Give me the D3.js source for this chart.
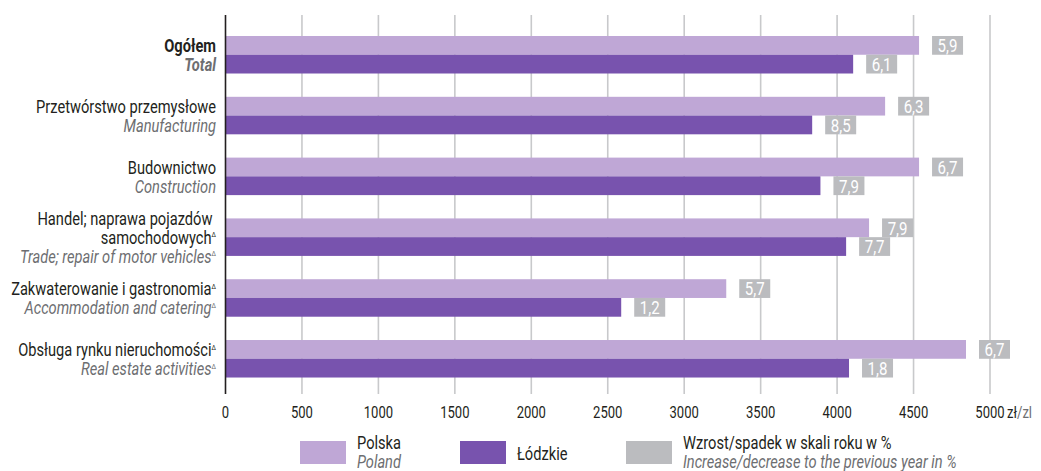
<!DOCTYPE html>
<html>
<head>
<meta charset="utf-8">
<script src="https://cdn.jsdelivr.net/npm/d3@7"></script>
<style>
  html, body { margin: 0; padding: 0; background: #fff; }
  svg { display: block; }
  text { font-family: Roboto, "Noto Sans", sans-serif; }
</style>
</head>
<body>
<svg id="chart" width="1041" height="471"></svg>
<script>
// ---- data ----
const categoriesPL = [
  ["Ogółem"],
  ["Przetwórstwo przemysłowe"],
  ["Budownictwo"],
  ["Handel; naprawa pojazdów\u00a0", "samochodowych"],
  ["Zakwaterowanie i gastronomia"],
  ["Obsługa rynku nieruchomości"]
];
const categoriesEN = ["Total", "Manufacturing", "Construction", "Trade; repair of motor vehicles", "Accommodation and catering", "Real estate activities"];
const marked = [false, false, false, true, true, true];
const polska = [4536, 4314, 4536, 4209, 3275, 4843];
const lodzkie = [4105, 3837, 3891, 4059, 2588, 4078];
const changePolska = [5.9, 6.3, 6.7, 7.9, 5.7, 6.7];
const changeLodzkie = [6.1, 8.5, 7.9, 7.7, 1.2, 1.8];
const xTicks = [0, 500, 1000, 1500, 2000, 2500, 3000, 3500, 4000, 4500, 5000];
const seriesNames = ["Polska", "Łódzkie"];
const seriesNamesEN = ["Poland", ""];
const legendChange = ["Wzrost/spadek w skali roku w %", "Increase/decrease to the previous year in %"];
const unitLabel = ["zł", "/zl"];

(function () {
// ---- styles ----
const colPL = "#bfa7d6";
const colLD = "#7853ae";
const colGray = "#bbbcbf";
const colText = "#231f20";
const colEN = "#6d6e71";
const colGrid = "#c8c9cb";
const fsLabel = 18.5, fsTick = 16.5, fsValue = 19;

const svg = d3.select("#chart");
const keys = categoriesEN.map((d, i) => i);

// condensed-font emulation: measure a reference string and derive a horizontal scale
const probe = svg.append("text").attr("font-size", fsLabel).text("Przetwórstwo przemysłowe");
const sx = 180 / probe.node().getComputedTextLength();
probe.remove();
const cond = sel => sel.each(function () {
  const t = d3.select(this);
  const x0 = +t.attr("x");
  t.attr("transform", `translate(${x0 * (1 - sx)},0) scale(${sx},1)`);
});

const x = d3.scaleLinear().domain([0, 5000]).range([225.5, 990]);
const y = d3.scaleBand().domain(keys).range([17.76, 395.76]).paddingInner(0.3832).paddingOuter(0.3);
const ys = d3.scaleBand().domain([0, 1]).range([0, y.bandwidth()]);

const yTop = 15, yBottom = 394;

// gridlines
svg.append("g").selectAll("line").data(xTicks.filter(d => d > 0)).join("line")
  .attr("x1", d => x(d)).attr("x2", d => x(d))
  .attr("y1", yTop).attr("y2", yBottom)
  .attr("stroke", colGrid).attr("stroke-width", 1.6);

// bars
const rows = keys.map(i => ({i, vals: [polska[i], lodzkie[i]], ch: [changePolska[i], changeLodzkie[i]]}));
const fmt = v => d3.format(".1f")(v).replace(".", ",");
const g = svg.append("g");
rows.forEach(r => {
  r.vals.forEach((v, s) => {
    const yy = y(r.i) + ys(s);
    g.append("rect")
      .attr("x", x(0)).attr("y", yy)
      .attr("width", x(v) - x(0)).attr("height", ys.bandwidth())
      .attr("fill", s === 0 ? colPL : colLD);
    g.append("rect")
      .attr("x", x(v) + 13).attr("y", yy)
      .attr("width", 31).attr("height", ys.bandwidth())
      .attr("fill", colGray);
    g.append("text")
      .attr("x", x(v) + 13 + 15.5).attr("y", yy + ys.bandwidth() / 2)
      .attr("dy", "0.36em")
      .attr("text-anchor", "middle")
      .attr("fill", "#fff")
      .attr("font-size", fsValue)
      .text(fmt(r.ch[s]))
      .call(cond);
  });
});

// y axis line
svg.append("line").attr("x1", x(0)).attr("x2", x(0)).attr("y1", yTop).attr("y2", yBottom)
  .attr("stroke", colText).attr("stroke-width", 1.6);

// x tick labels
svg.append("g").selectAll("text").data(xTicks).join("text")
  .attr("x", d => x(d)).attr("y", 412).attr("dy", "0.36em")
  .attr("text-anchor", "middle").attr("font-size", fsTick).attr("fill", colText)
  .text(d => d)
  .call(cond);
const unit = svg.append("text").attr("x", x(5000) + 17).attr("y", 412).attr("dy", "0.36em")
  .attr("font-size", fsTick).attr("fill", colText);
unit.append("tspan").text(unitLabel[0]);
unit.append("tspan").attr("fill", colEN).text(unitLabel[1]);
unit.call(cond);

// category labels
const labX = 216;
rows.forEach(r => {
  const lines = categoriesPL[r.i].map(t => ({t, en: false})).concat([{t: categoriesEN[r.i], en: true}]);
  const n = lines.length;
  const cy = y(r.i) + y.bandwidth() / 2;
  const sp = 19;
  lines.forEach((ln, k) => {
    const yy = cy + (k - (n - 1) / 2) * sp;
    const t = svg.append("text")
      .attr("x", labX).attr("y", yy).attr("dy", "0.36em")
      .attr("text-anchor", "end")
      .attr("font-size", fsLabel)
      .attr("fill", ln.en ? colEN : colText)
      .attr("font-style", ln.en ? "italic" : "normal")
      .attr("font-weight", r.i === 0 ? "bold" : "normal")
      .attr("xml:space", "preserve");
    t.append("tspan").text(ln.t);
    const isLastPL = !ln.en && k === n - 2;
    if (marked[r.i] && (ln.en || isLastPL)) {
      t.append("tspan").attr("font-size", 8).attr("dy", "-0.8em").attr("font-style", "normal").text("∆");
    }
    t.call(cond);
  });
});

// legend
const lg = svg.append("g");
const legendItems = [
  {x: 300, color: colPL, l1: seriesNames[0], l2: seriesNamesEN[0]},
  {x: 460, color: colLD, l1: seriesNames[1], l2: seriesNamesEN[1]},
  {x: 626, color: colGray, l1: legendChange[0], l2: legendChange[1]}
];
legendItems.forEach(it => {
  lg.append("rect").attr("x", it.x).attr("y", 441).attr("width", 46).attr("height", 23).attr("fill", it.color);
  const tx = it.x + 46 + 11;
  if (it.l2) {
    lg.append("text").attr("x", tx).attr("y", 442).attr("dy", "0.36em").attr("font-size", fsLabel).attr("fill", colText).text(it.l1).call(cond);
    lg.append("text").attr("x", tx).attr("y", 461).attr("dy", "0.36em").attr("font-size", fsLabel).attr("fill", colEN).attr("font-style", "italic").text(it.l2).call(cond);
  } else {
    lg.append("text").attr("x", tx).attr("y", 453).attr("dy", "0.36em").attr("font-size", fsLabel).attr("fill", colText).text(it.l1).call(cond);
  }
});
})();
</script>
</body>
</html>
